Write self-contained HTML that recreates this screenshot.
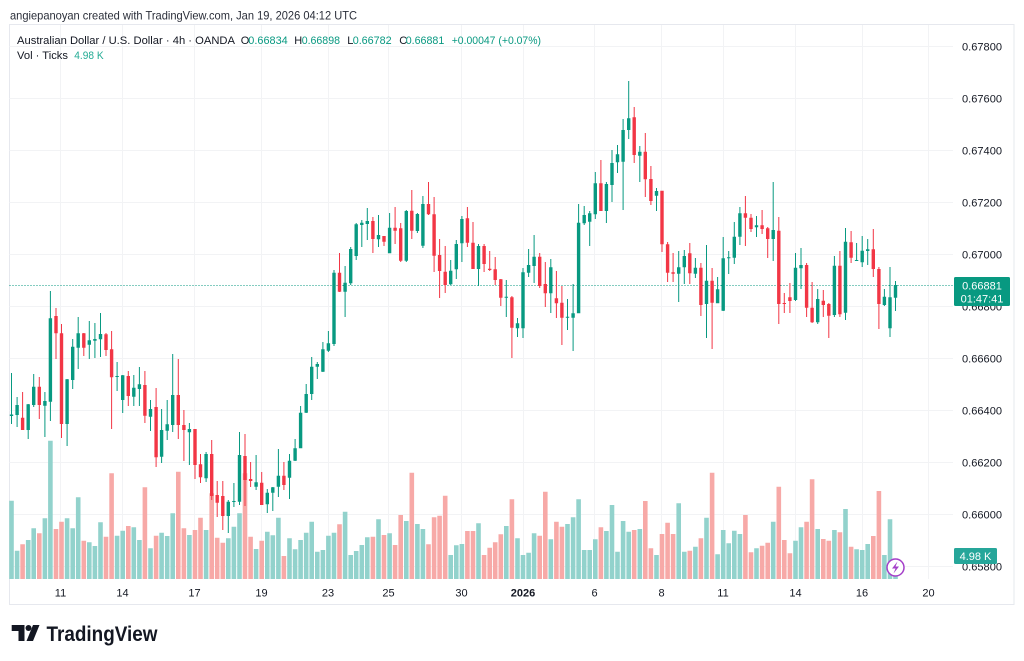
<!DOCTYPE html>
<html>
<head>
<meta charset="utf-8">
<style>
html,body{margin:0;padding:0;background:#fff;}
svg{display:block;font-family:"Liberation Sans",Arial,sans-serif;}
</style>
</head>
<body>
<svg width="1024" height="661" viewBox="0 0 1024 661" xmlns="http://www.w3.org/2000/svg">
<rect x="0" y="0" width="1024" height="661" fill="#fff"/>
<!-- header -->
<text x="10" y="19.5" font-size="12" fill="#2a2e39" textLength="347" lengthAdjust="spacingAndGlyphs">angiepanoyan created with TradingView.com, Jan 19, 2026 04:12 UTC</text>
<!-- frame -->
<rect x="9.5" y="24.5" width="1004.5" height="580" fill="none" stroke="#e6e8ee" stroke-width="1"/>
<!-- grid -->
<g stroke="#f2f3f5" stroke-width="1">
<path d="M9.5 46.5H953M9.5 98.5H953M9.5 150.5H953M9.5 202.5H953M9.5 254.5H953M9.5 306.5H953M9.5 358.5H953M9.5 410.5H953M9.5 462.5H953M9.5 514.5H953M9.5 566.5H953"/>
<path d="M60.5 25V579M122.5 25V579M194.5 25V579M261.5 25V579M328.5 25V579M388.5 25V579M461.5 25V579M523.5 25V579M594.5 25V579M661.5 25V579M723.5 25V579M795.5 25V579M862.5 25V579M928.5 25V579"/>
</g>
<!-- volume green -->
<path fill="#92d2cc" d="M9.2 500.7h4.6V579h-4.6zM14.8 550.7h4.6V579h-4.6zM25.9 540h4.6V579h-4.6zM31.4 528.3h4.6V579h-4.6zM42.6 518.3h4.6V579h-4.6zM48.1 440.7h4.6V579h-4.6zM64.8 518.3h4.6V579h-4.6zM70.4 528.3h4.6V579h-4.6zM75.9 497.3h4.6V579h-4.6zM87 542.3h4.6V579h-4.6zM92.6 546h4.6V579h-4.6zM98.2 522.3h4.6V579h-4.6zM114.8 535.7h4.6V579h-4.6zM120.4 530.7h4.6V579h-4.6zM131.5 527.3h4.6V579h-4.6zM137.1 540h4.6V579h-4.6zM148.2 548.3h4.6V579h-4.6zM159.3 532.7h4.6V579h-4.6zM164.9 536h4.6V579h-4.6zM170.4 513.3h4.6V579h-4.6zM187.1 535h4.6V579h-4.6zM203.8 530h4.6V579h-4.6zM226 538.3h4.6V579h-4.6zM231.6 526.7h4.6V579h-4.6zM237.2 513.3h4.6V579h-4.6zM253.8 549h4.6V579h-4.6zM265 531.7h4.6V579h-4.6zM270.5 535.3h4.6V579h-4.6zM276.1 517.7h4.6V579h-4.6zM287.2 538.3h4.6V579h-4.6zM292.8 549.3h4.6V579h-4.6zM298.3 540h4.6V579h-4.6zM303.9 532.7h4.6V579h-4.6zM309.4 521.7h4.6V579h-4.6zM315 551.7h4.6V579h-4.6zM320.6 550h4.6V579h-4.6zM326.1 535.7h4.6V579h-4.6zM331.7 532.7h4.6V579h-4.6zM342.8 511.7h4.6V579h-4.6zM348.4 555h4.6V579h-4.6zM353.9 551h4.6V579h-4.6zM359.5 545h4.6V579h-4.6zM365 537.3h4.6V579h-4.6zM376.2 519.3h4.6V579h-4.6zM387.3 533.3h4.6V579h-4.6zM404 521h4.6V579h-4.6zM415.1 524h4.6V579h-4.6zM420.6 529h4.6V579h-4.6zM448.4 555h4.6V579h-4.6zM454 545.3h4.6V579h-4.6zM459.6 544h4.6V579h-4.6zM476.2 523.3h4.6V579h-4.6zM504 526h4.6V579h-4.6zM515.2 538.3h4.6V579h-4.6zM520.7 555h4.6V579h-4.6zM526.3 552.7h4.6V579h-4.6zM531.8 533.3h4.6V579h-4.6zM548.5 539.3h4.6V579h-4.6zM565.2 524h4.6V579h-4.6zM570.8 517.3h4.6V579h-4.6zM576.3 499.3h4.6V579h-4.6zM581.9 550h4.6V579h-4.6zM587.4 550h4.6V579h-4.6zM593 539.3h4.6V579h-4.6zM604.1 531h4.6V579h-4.6zM609.7 505h4.6V579h-4.6zM615.2 551.7h4.6V579h-4.6zM620.8 521h4.6V579h-4.6zM626.4 531.7h4.6V579h-4.6zM637.5 529h4.6V579h-4.6zM654.2 555h4.6V579h-4.6zM676.4 503.3h4.6V579h-4.6zM682 551.7h4.6V579h-4.6zM693.1 546.7h4.6V579h-4.6zM704.2 517.7h4.6V579h-4.6zM715.3 554.3h4.6V579h-4.6zM720.9 530h4.6V579h-4.6zM726.4 543.3h4.6V579h-4.6zM732 530.7h4.6V579h-4.6zM737.6 534h4.6V579h-4.6zM754.2 548.3h4.6V579h-4.6zM770.9 521.7h4.6V579h-4.6zM793.2 540.7h4.6V579h-4.6zM798.7 527.3h4.6V579h-4.6zM815.4 529h4.6V579h-4.6zM832.1 530h4.6V579h-4.6zM843.2 509h4.6V579h-4.6zM854.3 549.3h4.6V579h-4.6zM859.9 550h4.6V579h-4.6zM865.4 544h4.6V579h-4.6zM882.1 555h4.6V579h-4.6zM887.7 519.3h4.6V579h-4.6zM893.2 574h4.6V579h-4.6z"/>
<!-- volume red -->
<path fill="#f7a9a7" d="M20.3 544.3h4.6V579h-4.6zM37 533.3h4.6V579h-4.6zM53.7 529h4.6V579h-4.6zM59.2 521.7h4.6V579h-4.6zM81.5 540.7h4.6V579h-4.6zM103.7 536.7h4.6V579h-4.6zM109.3 473.3h4.6V579h-4.6zM126 526h4.6V579h-4.6zM142.6 487.3h4.6V579h-4.6zM153.8 535.7h4.6V579h-4.6zM176 471.7h4.6V579h-4.6zM181.6 528.3h4.6V579h-4.6zM192.7 530h4.6V579h-4.6zM198.2 517.7h4.6V579h-4.6zM209.4 493.3h4.6V579h-4.6zM214.9 537.7h4.6V579h-4.6zM220.5 542.7h4.6V579h-4.6zM242.7 473.3h4.6V579h-4.6zM248.3 536.7h4.6V579h-4.6zM259.4 540.7h4.6V579h-4.6zM281.6 556h4.6V579h-4.6zM337.2 524.3h4.6V579h-4.6zM370.6 536.7h4.6V579h-4.6zM381.7 535h4.6V579h-4.6zM392.8 545h4.6V579h-4.6zM398.4 515h4.6V579h-4.6zM409.5 472.7h4.6V579h-4.6zM426.2 544.3h4.6V579h-4.6zM431.8 517.3h4.6V579h-4.6zM437.3 515.7h4.6V579h-4.6zM442.9 495.7h4.6V579h-4.6zM465.1 531h4.6V579h-4.6zM470.7 531h4.6V579h-4.6zM481.8 555h4.6V579h-4.6zM487.4 547.7h4.6V579h-4.6zM492.9 542.3h4.6V579h-4.6zM498.5 534.3h4.6V579h-4.6zM509.6 499.3h4.6V579h-4.6zM537.4 535.7h4.6V579h-4.6zM543 491.7h4.6V579h-4.6zM554.1 521.7h4.6V579h-4.6zM559.6 526.7h4.6V579h-4.6zM598.6 527.3h4.6V579h-4.6zM631.9 530h4.6V579h-4.6zM643 501h4.6V579h-4.6zM648.6 548.3h4.6V579h-4.6zM659.7 534h4.6V579h-4.6zM665.3 522.7h4.6V579h-4.6zM670.8 534h4.6V579h-4.6zM687.5 550.7h4.6V579h-4.6zM698.6 538.3h4.6V579h-4.6zM709.8 472.7h4.6V579h-4.6zM743.1 515h4.6V579h-4.6zM748.7 552.3h4.6V579h-4.6zM759.8 545.7h4.6V579h-4.6zM765.4 542.7h4.6V579h-4.6zM776.5 486.7h4.6V579h-4.6zM782 540h4.6V579h-4.6zM787.6 553.3h4.6V579h-4.6zM804.3 521.7h4.6V579h-4.6zM809.8 479.3h4.6V579h-4.6zM821 539h4.6V579h-4.6zM826.5 540.7h4.6V579h-4.6zM837.6 532.3h4.6V579h-4.6zM848.8 546.7h4.6V579h-4.6zM871 536h4.6V579h-4.6zM876.6 491h4.6V579h-4.6z"/>
<!-- current price dotted line -->
<path d="M9.5 285.5H953" stroke="#089981" stroke-width="1" stroke-dasharray="1 2"/>
<!-- green wicks -->
<path fill="none" stroke="#089981" stroke-width="1" d="M11.5 373V424M17.1 397V427M28.2 404V439M33.7 374V407M44.9 392V437M50.4 291V421M67.1 379V446M72.7 339V389M78.2 317V369M89.3 321V359M94.9 323V358M100.5 313V357M117.1 362V391M122.7 375V413M133.8 375V406M139.4 367V406M150.5 400V431M161.6 409V463M167.2 400V440M172.7 354V432M189.4 423V465M206.1 452V482M228.3 500V533M233.9 483V507M239.5 432V505M256.1 455V490M267.3 489V513M272.8 487V511M278.4 449V497M289.5 454V499M295.1 439V461M300.6 406V448M306.2 384V413M311.7 357V400M317.3 362V379M322.9 342V372M328.4 331V352M334 270V346M345.1 266V317M350.7 247V285M356.2 223V260M361.8 220V247M367.3 208V240M378.5 215V247M389.6 213V253M406.3 210V262M417.4 213V233M422.9 196V248M450.7 260V285M456.3 240V279M461.9 216V262M478.5 244V286M506.3 280V317M517.5 318V337M523 268V338M528.6 249V277M534.1 235V283M550.8 259V313M567.5 299V330M573.1 284V351M578.6 204V313M584.2 206V225M589.7 211V246M595.3 172V219M606.4 182V223M612 150V202M617.5 145V173M623.1 119V210M628.7 81V139M639.8 146V182M656.5 188V211M678.7 251V302M684.3 250V284M695.4 258V278M706.5 245V338M717.6 277V303M723.2 237V311M728.7 251V274M734.3 222V264M739.9 207V245M756.5 216V237M773.2 182V261M795.5 253V301M801 248V289M817.7 289V324M834.4 256V317M845.5 228V320M856.6 243V261M862.2 236V267M867.7 239V265M884.4 289V306M890 267V337M895.5 281V311"/>
<!-- red wicks -->
<path fill="none" stroke="#f23645" stroke-width="1" d="M22.6 392V430M39.3 377V419M56 308V359M61.5 324V438M83.8 333V356M106 333V356M111.6 331V429M128.3 371V406M144.9 371V423M156.1 388V467M178.3 359V439M183.9 410V461M195 429V479M200.5 454V483M211.7 440V500M217.2 481V517M222.8 481V530M245 434V506M250.6 462V487M261.7 472V505M283.9 462V490M339.5 253V292M372.9 217V253M384 236V246M395.1 207V244M400.7 223V262M411.8 190V239M428.5 182V215M434.1 197V272M439.6 239V298M445.2 246V293M467.4 207V247M473 222V269M484.1 244V272M489.7 251V271M495.2 257V285M500.8 279V306M511.9 296V358M539.7 253V288M545.3 262V307M556.4 271V318M561.9 286V345M600.9 160V211M634.2 107V163M645.3 133V197M650.9 166V205M662 191V252M667.6 242V282M673.1 253V282M689.8 243V284M700.9 263V316M712.1 268V349M745.4 196V246M751 214V232M762.1 210V234M767.7 227V258M778.8 217V324M784.3 293V313M789.9 283V313M806.6 263V317M812.1 282V323M823.3 290V317M828.8 303V338M839.9 251V317M851.1 231V263M873.3 229V277M878.9 267V329"/>
<!-- green bodies -->
<path fill="#089981" d="M9.8 414.5h3.4V416h-3.4zM15.4 405h3.4V415h-3.4zM26.5 404.3h3.4V430h-3.4zM32 386.7h3.4V405h-3.4zM43.2 401h3.4V405.7h-3.4zM48.7 318.3h3.4V401.7h-3.4zM65.4 379.3h3.4V424h-3.4zM71 346.7h3.4V380h-3.4zM76.5 333.3h3.4V347.7h-3.4zM87.6 340.3h3.4V344.7h-3.4zM93.2 339h3.4V340.7h-3.4zM98.8 334h3.4V339.3h-3.4zM115.4 376h3.4V377h-3.4zM121 375.3h3.4V400h-3.4zM132.1 387.7h3.4V396.7h-3.4zM137.7 384.3h3.4V389h-3.4zM148.8 409h3.4V416.7h-3.4zM159.9 430h3.4V456.7h-3.4zM165.5 424.3h3.4V430.7h-3.4zM171 395h3.4V425h-3.4zM187.7 429h3.4V432.3h-3.4zM204.4 454h3.4V478.3h-3.4zM226.6 501.7h3.4V516h-3.4zM232.2 501h3.4V502h-3.4zM237.8 455h3.4V501.7h-3.4zM254.4 482.3h3.4V486.7h-3.4zM265.6 492.7h3.4V504.3h-3.4zM271.1 487.3h3.4V492.7h-3.4zM276.7 475.7h3.4V486.7h-3.4zM287.8 460.7h3.4V477.7h-3.4zM293.4 448.3h3.4V460.7h-3.4zM298.9 412.7h3.4V448.3h-3.4zM304.5 394h3.4V412.7h-3.4zM310 366.7h3.4V394h-3.4zM315.6 364h3.4V366.7h-3.4zM321.2 349.3h3.4V371.7h-3.4zM326.7 343.3h3.4V350.7h-3.4zM332.3 272.7h3.4V344h-3.4zM343.4 282.7h3.4V291.7h-3.4zM349 249h3.4V283.3h-3.4zM354.5 224.3h3.4V256h-3.4zM360.1 222.7h3.4V225h-3.4zM365.6 221h3.4V224h-3.4zM376.8 235h3.4V239.3h-3.4zM387.9 227.7h3.4V253.3h-3.4zM404.6 211h3.4V260.7h-3.4zM415.7 214h3.4V231h-3.4zM421.2 204h3.4V245.7h-3.4zM449 270.7h3.4V284.3h-3.4zM454.6 244h3.4V269.3h-3.4zM460.2 219h3.4V243.3h-3.4zM476.8 246h3.4V269h-3.4zM504.6 296.7h3.4V297.7h-3.4zM515.8 323.3h3.4V328.3h-3.4zM521.3 272.3h3.4V328.3h-3.4zM526.9 265h3.4V272.7h-3.4zM532.4 256.7h3.4V266h-3.4zM549.1 267.3h3.4V293.3h-3.4zM565.8 316.7h3.4V317.7h-3.4zM571.4 313.3h3.4V317.7h-3.4zM576.9 222.7h3.4V313.3h-3.4zM582.5 215h3.4V223.3h-3.4zM588 213.3h3.4V221.7h-3.4zM593.6 183.3h3.4V214.3h-3.4zM604.7 184h3.4V211h-3.4zM610.3 163h3.4V185h-3.4zM615.8 154.3h3.4V162.3h-3.4zM621.4 130h3.4V161.7h-3.4zM627 118.3h3.4V130h-3.4zM638.1 151.7h3.4V155.7h-3.4zM654.8 191h3.4V195.7h-3.4zM677 267.3h3.4V273.7h-3.4zM682.6 256h3.4V267.3h-3.4zM693.7 267.7h3.4V273.7h-3.4zM704.8 280.7h3.4V304h-3.4zM715.9 289.3h3.4V303.3h-3.4zM721.5 258.3h3.4V310.7h-3.4zM727 257.3h3.4V258.3h-3.4zM732.6 236.7h3.4V257.7h-3.4zM738.2 213.3h3.4V236.7h-3.4zM754.8 225.3h3.4V227.3h-3.4zM771.5 230h3.4V239h-3.4zM793.8 267.7h3.4V300h-3.4zM799.3 265h3.4V268.3h-3.4zM816 299h3.4V322.3h-3.4zM832.7 265.7h3.4V315h-3.4zM843.8 241.7h3.4V312.7h-3.4zM854.9 260h3.4V261h-3.4zM860.5 250.7h3.4V262.3h-3.4zM866 249.3h3.4V251h-3.4zM882.7 296.7h3.4V305h-3.4zM888.3 297.3h3.4V328.3h-3.4zM893.8 285h3.4V297.7h-3.4z"/>
<!-- red bodies -->
<path fill="#f23645" d="M20.9 417.7h3.4V430h-3.4zM37.6 386.7h3.4V405h-3.4zM54.3 316h3.4V333.3h-3.4zM59.8 333.3h3.4V424h-3.4zM82.1 333.3h3.4V347.7h-3.4zM104.3 334.3h3.4V350h-3.4zM109.9 349.3h3.4V377.3h-3.4zM126.6 376h3.4V396h-3.4zM143.2 385h3.4V415.7h-3.4zM154.4 407h3.4V457.3h-3.4zM176.6 395h3.4V425h-3.4zM182.2 425h3.4V430h-3.4zM193.3 429h3.4V465h-3.4zM198.8 464.3h3.4V477.3h-3.4zM210 454h3.4V496h-3.4zM215.5 495h3.4V502.7h-3.4zM221.1 496h3.4V516h-3.4zM243.3 456h3.4V480h-3.4zM248.9 479h3.4V481h-3.4zM260 482.7h3.4V505h-3.4zM282.2 475.7h3.4V485h-3.4zM337.8 272.7h3.4V291.7h-3.4zM371.2 221h3.4V239h-3.4zM382.3 236h3.4V241.7h-3.4zM393.4 227.7h3.4V230.7h-3.4zM399 228.3h3.4V260.7h-3.4zM410.1 210.7h3.4V230.7h-3.4zM426.8 204h3.4V214.3h-3.4zM432.4 214.3h3.4V255.7h-3.4zM437.9 255h3.4V271h-3.4zM443.5 271.7h3.4V285h-3.4zM465.7 218.3h3.4V242.7h-3.4zM471.3 242.7h3.4V269h-3.4zM482.4 246h3.4V264h-3.4zM488 268.7h3.4V270h-3.4zM493.5 269.3h3.4V280h-3.4zM499.1 279.3h3.4V297.7h-3.4zM510.2 297.3h3.4V327.7h-3.4zM538 256.7h3.4V286h-3.4zM543.6 284h3.4V293.3h-3.4zM554.7 298.3h3.4V303.3h-3.4zM560.2 302.7h3.4V317.7h-3.4zM599.2 183.3h3.4V211h-3.4zM632.5 117.3h3.4V155h-3.4zM643.6 151.7h3.4V179.3h-3.4zM649.2 179h3.4V201h-3.4zM660.3 190.7h3.4V244.3h-3.4zM665.9 244.3h3.4V272.7h-3.4zM671.4 272.3h3.4V273.7h-3.4zM688.1 253.3h3.4V273.3h-3.4zM699.2 267.7h3.4V305h-3.4zM710.4 280.7h3.4V302.7h-3.4zM743.7 213.3h3.4V217.7h-3.4zM749.3 217.7h3.4V229h-3.4zM760.4 225.3h3.4V229h-3.4zM766 228.3h3.4V239h-3.4zM777.1 230.7h3.4V304h-3.4zM782.6 303h3.4V304h-3.4zM788.2 297.3h3.4V301h-3.4zM804.9 265h3.4V307.7h-3.4zM810.4 307.7h3.4V322.3h-3.4zM821.6 300.7h3.4V305h-3.4zM827.1 304h3.4V315.7h-3.4zM838.2 265.7h3.4V314.3h-3.4zM849.4 242.3h3.4V257.7h-3.4zM871.6 249.3h3.4V269h-3.4zM877.2 269h3.4V304h-3.4z"/>
<!-- legend -->
<g font-size="11">
<text x="17" y="44" fill="#131722" textLength="218" lengthAdjust="spacingAndGlyphs">Australian Dollar / U.S. Dollar · 4h · OANDA</text>
<text x="240.7" y="44" fill="#131722">O</text>
<text x="248.3" y="44" fill="#089981" textLength="39.4" lengthAdjust="spacingAndGlyphs">0.66834</text>
<text x="294.3" y="44" fill="#131722">H</text>
<text x="301.7" y="44" fill="#089981" textLength="38.3" lengthAdjust="spacingAndGlyphs">0.66898</text>
<text x="347.3" y="44" fill="#131722">L</text>
<text x="352.7" y="44" fill="#089981" textLength="39" lengthAdjust="spacingAndGlyphs">0.66782</text>
<text x="399.3" y="44" fill="#131722">C</text>
<text x="405.7" y="44" fill="#089981" textLength="38.6" lengthAdjust="spacingAndGlyphs">0.66881</text>
<text x="451.7" y="44" fill="#089981" textLength="89.3" lengthAdjust="spacingAndGlyphs">+0.00047 (+0.07%)</text>
<text x="17" y="59" fill="#131722" textLength="51" lengthAdjust="spacingAndGlyphs">Vol · Ticks</text>
<text x="74.3" y="59" fill="#22ab94" textLength="29.3" lengthAdjust="spacingAndGlyphs">4.98 K</text>
</g>
<!-- y axis labels -->
<g font-size="11" fill="#131722">
<text x="962" y="50.5" textLength="40" lengthAdjust="spacingAndGlyphs">0.67800</text>
<text x="962" y="102.5" textLength="40" lengthAdjust="spacingAndGlyphs">0.67600</text>
<text x="962" y="154.5" textLength="40" lengthAdjust="spacingAndGlyphs">0.67400</text>
<text x="962" y="206.5" textLength="40" lengthAdjust="spacingAndGlyphs">0.67200</text>
<text x="962" y="258.5" textLength="40" lengthAdjust="spacingAndGlyphs">0.67000</text>
<text x="962" y="310.5" textLength="40" lengthAdjust="spacingAndGlyphs">0.66800</text>
<text x="962" y="362.5" textLength="40" lengthAdjust="spacingAndGlyphs">0.66600</text>
<text x="962" y="414.5" textLength="40" lengthAdjust="spacingAndGlyphs">0.66400</text>
<text x="962" y="466.5" textLength="40" lengthAdjust="spacingAndGlyphs">0.66200</text>
<text x="962" y="518.5" textLength="40" lengthAdjust="spacingAndGlyphs">0.66000</text>
<text x="962" y="570.5" textLength="40" lengthAdjust="spacingAndGlyphs">0.65800</text>
</g>
<!-- price label -->
<rect x="954" y="277" width="56" height="29" rx="1.5" fill="#089981"/>
<text x="982" y="289.5" font-size="11" fill="#fff" text-anchor="middle">0.66881</text>
<text x="982" y="302.5" font-size="11" fill="#fff" text-anchor="middle">01:47:41</text>
<!-- volume label -->
<rect x="954" y="548" width="43" height="16" rx="1.5" fill="#26a69a"/>
<text x="975.5" y="560" font-size="11" fill="#fff" text-anchor="middle">4.98 K</text>
<!-- lightning icon -->
<circle cx="895.5" cy="567.5" r="8.5" fill="#fff" stroke="#a43fc9" stroke-width="1.5"/>
<path d="M897.5 561.5L892 568.5H895.5L893.5 573.5L899 566.5H895.5Z" fill="#a43fc9"/>
<!-- time axis labels -->
<g font-size="11" fill="#131722" text-anchor="middle">
<text x="60.5" y="596.5">11</text>
<text x="122.5" y="596.5">14</text>
<text x="194.5" y="596.5">17</text>
<text x="261.5" y="596.5">19</text>
<text x="328" y="596.5">23</text>
<text x="388.5" y="596.5">25</text>
<text x="461.5" y="596.5">30</text>
<text x="523" y="596.5" font-weight="bold">2026</text>
<text x="594.5" y="596.5">6</text>
<text x="661.5" y="596.5">8</text>
<text x="723" y="596.5">11</text>
<text x="795.5" y="596.5">14</text>
<text x="862" y="596.5">16</text>
<text x="928.5" y="596.5">20</text>
</g>
<!-- TradingView logo -->
<g fill="#131722">
<path d="M11.7 625H24.5V641H18.5V631H11.7Z"/>
<circle cx="28.5" cy="628" r="3"/>
<path d="M33 625H39.5L33 641H26.5Z"/>
</g>
<text x="46.5" y="641" font-size="21" font-weight="bold" fill="#131722" textLength="111" lengthAdjust="spacingAndGlyphs">TradingView</text>
</svg>
</body>
</html>
